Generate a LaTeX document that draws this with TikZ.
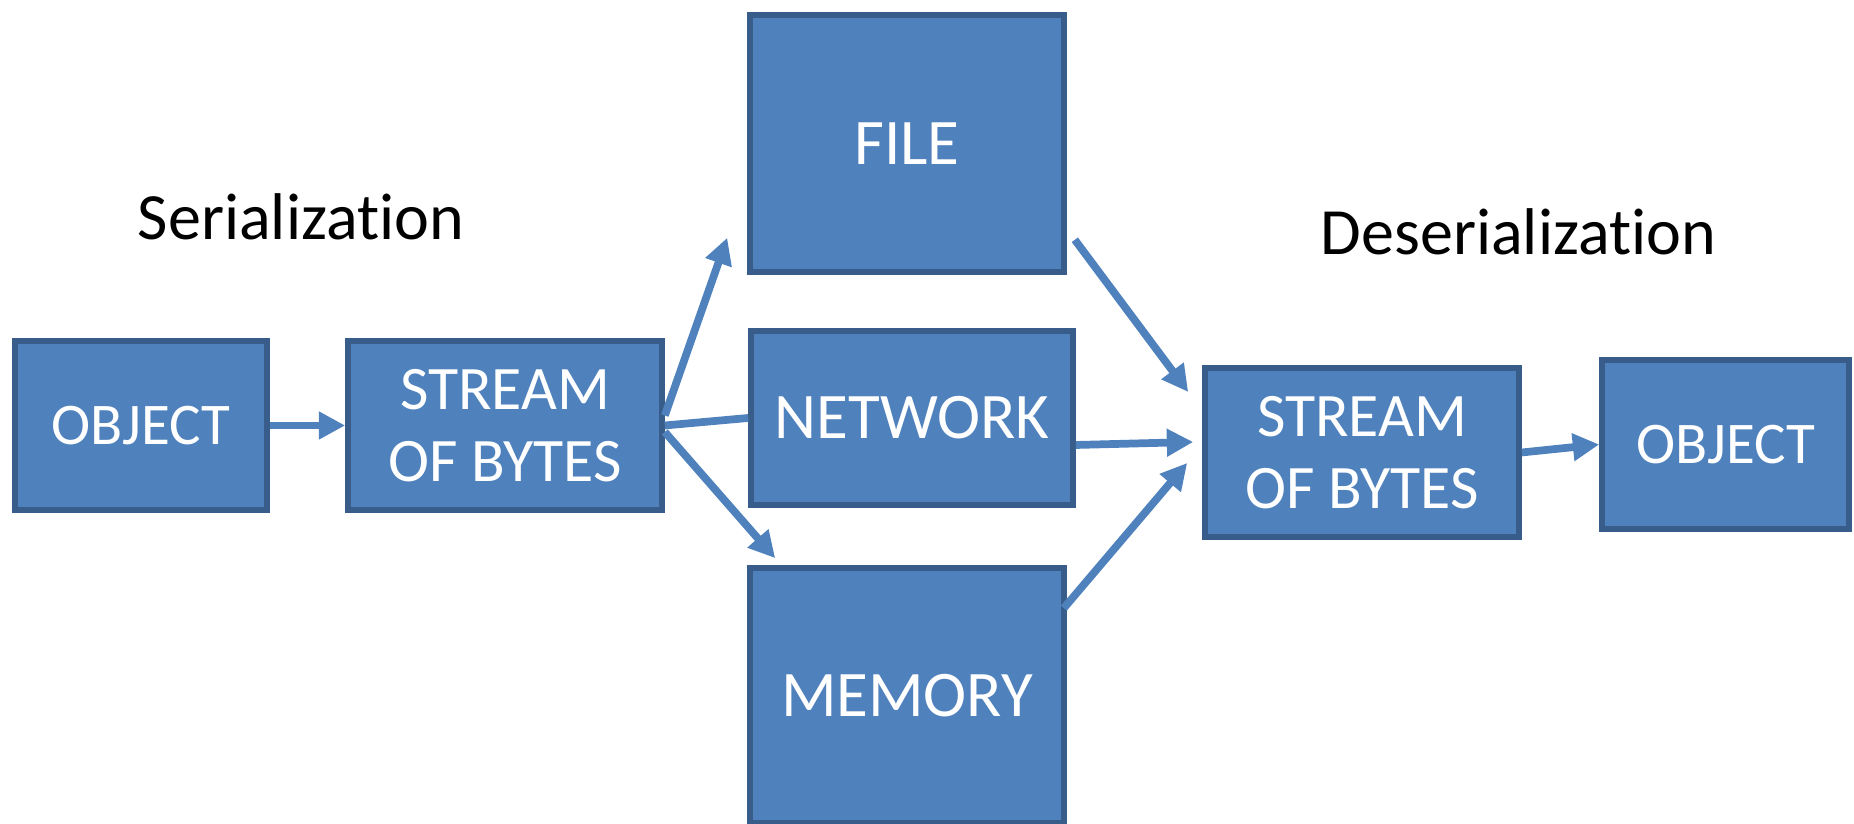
\documentclass[tikz,border=0pt]{standalone}
\usepackage{fontspec}
\setmainfont{Carlito}[Ligatures=NoCommon]
\usetikzlibrary{arrows.meta}
\definecolor{boxfill}{HTML}{4F81BD}
\definecolor{boxline}{HTML}{385D8A}

\begin{document}
\begin{tikzpicture}[
  box/.style={draw=boxline, fill=boxfill, line width=1.6pt, inner sep=0pt, text=white, align=center,
    font=\fontsize{18.5}{20.5}\selectfont},
  arr/.style={draw=boxfill, line width=2.2pt, -{Triangle[length=7.5pt,width=7.5pt]}}]
\useasboundingbox (0,0) rectangle (18.54,8.24);

% Headings
\node[anchor=base, font=\fontsize{18.8}{22}\selectfont] (ser) at (3.01,5.84) {Serialization};
\node[anchor=base, font=\fontsize{18.8}{22}\selectfont] (deser) at (15.185,5.69) {Deserialization};

% Boxes, left to right
\node[box, minimum width=2.52cm, minimum height=1.69cm, font=\fontsize{16.8}{20}\selectfont] (obj1) at (1.41,3.985) {OBJECT};
\node[box, minimum width=3.14cm, minimum height=1.69cm, font=\fontsize{17.6}{20.4}\selectfont] (sob1) at (5.05,3.985) {STREAM\\OF BYTES};
\node[box, minimum width=3.14cm, minimum height=2.57cm] (file) at (9.07,6.805) {FILE};
\node[box, minimum width=3.22cm, minimum height=1.74cm] (net) at (9.12,4.06) {NETWORK};
\node[box, minimum width=3.14cm, minimum height=2.55cm] (mem) at (9.07,1.285) {MEMORY};
\node[box, minimum width=3.14cm, minimum height=1.69cm, font=\fontsize{17.6}{20.4}\selectfont] (sob2) at (13.62,3.715) {STREAM\\OF BYTES};
\node[box, minimum width=2.47cm, minimum height=1.69cm, font=\fontsize{16.8}{20}\selectfont] (obj2) at (17.255,3.795) {OBJECT};

% Serialization side
\draw[arr] (obj1.east) -- (sob1.west);
\draw[arr] ([yshift=0.10cm]sob1.east) -- ([shift={(-0.20,0.37)}]file.south west);
\draw[draw=boxfill, line width=2.2pt] (sob1.east) -- (net.west);
\draw[arr] ([yshift=-0.065cm]sob1.east) -- ([shift={(0.28,0.07)}]mem.north west);

% Deserialization side
\draw[arr] ([shift={(0.08,0.35)}]file.south east) -- ([shift={(-0.14,0.605)}]sob2.west);
\draw[arr] ([yshift=-0.27cm]net.east) -- ([shift={(-0.09,0.105)}]sob2.west);
\draw[arr] ([shift={(-0.03,-0.43)}]mem.north east) -- ([shift={(-0.15,-0.105)}]sob2.west);
\draw[arr] (sob2.east) -- (obj2.west);
\end{tikzpicture}
\end{document}
